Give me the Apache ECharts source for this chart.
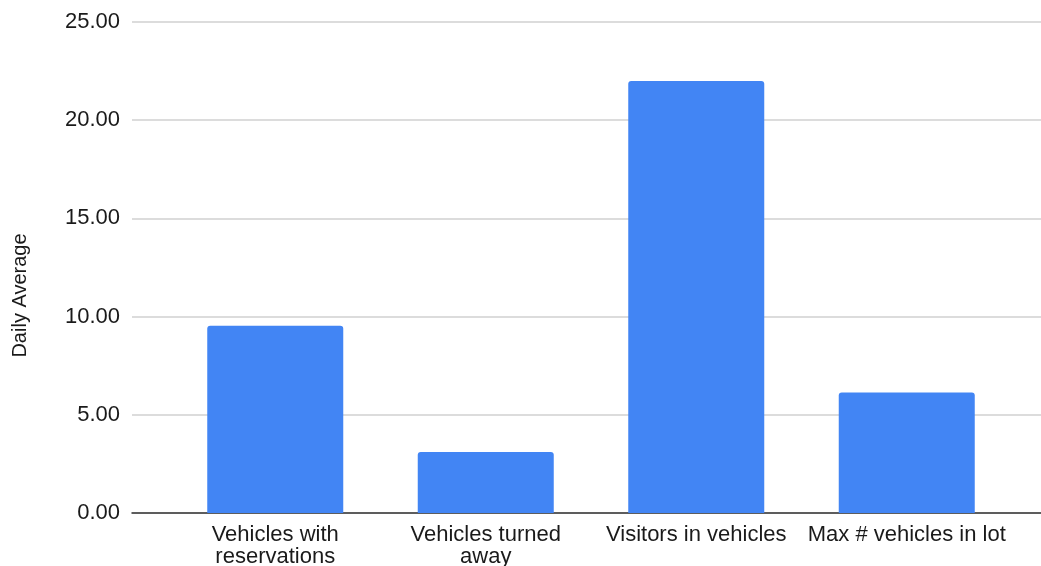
<!DOCTYPE html>
<html>
<head>
<meta charset="utf-8">
<style>
  html, body { margin: 0; padding: 0; background: #fff; }
  #chart { width: 1041px; height: 566px; }
</style>
<script src="https://cdn.jsdelivr.net/npm/echarts@6/dist/echarts.min.js"></script>
</head>
<body>
<div id="chart"></div>
<script>
  // chart data
  var categories = ['Vehicles with\nreservations', 'Vehicles turned\naway', 'Visitors in vehicles', 'Max # vehicles in lot']
  var dailyAverage = [9.54, 3.11, 22.0, 6.13]
  var yMin = 0
  var yMax = 25
  var yStep = 5

  var font = 'Liberation Sans, Arial, sans-serif'

  var chart = echarts.init(document.getElementById('chart'))

  var option = {
    animation: false,
    textStyle: { fontFamily: font },
    grid: [
      // grid 0: gridlines + y labels, full width
      { left: 132, right: 0, top: 22, bottom: 53, outerBoundsMode: 'none' },
      // grid 1: bars, inset like the original
      { left: 170, right: 29, top: 22, bottom: 53, outerBoundsMode: 'none' }
    ],
    xAxis: [
      {
        type: 'category',
        gridIndex: 0,
        data: categories,
        axisLine: { show: true, lineStyle: { color: '#333', width: 1.5 } },
        axisTick: { show: false },
        axisLabel: { show: false },
        splitLine: { show: false }
      },
      {
        type: 'category',
        gridIndex: 1,
        data: categories,
        axisLine: { show: false },
        axisTick: { show: false },
        axisLabel: {
          color: '#1a1a1a',
          fontSize: 22,
          fontFamily: font,
          lineHeight: 22,
          margin: 11,
          interval: 0
        }
      }
    ],
    yAxis: [
      {
        type: 'value',
        gridIndex: 0,
        min: yMin,
        max: yMax,
        interval: yStep,
        name: 'Daily Average',
        nameLocation: 'middle',
        nameRotate: 90,
        nameGap: 102,
        nameTextStyle: { color: '#1a1a1a', fontSize: 20, fontFamily: font, padding: [0, 56, 0, 0] },
        axisLine: { show: false },
        axisTick: { show: false },
        axisLabel: {
          color: '#1a1a1a',
          fontSize: 22,
          fontFamily: font,
          margin: 12,
          formatter: function (v) { return v.toFixed(2) }
        },
        splitLine: { lineStyle: { color: '#d0d0d0', width: 1.5 } }
      },
      {
        type: 'value',
        gridIndex: 1,
        min: yMin,
        max: yMax,
        interval: yStep,
        show: false,
        splitLine: { show: false }
      }
    ],
    series: [
      {
        name: 'Daily Average',
        type: 'bar',
        xAxisIndex: 1,
        yAxisIndex: 1,
        data: dailyAverage,
        barWidth: 136,
        itemStyle: { color: '#4285f4', borderRadius: [3, 3, 0, 0] }
      }
    ]
  }

  chart.setOption(option)
</script>
</body>
</html>
